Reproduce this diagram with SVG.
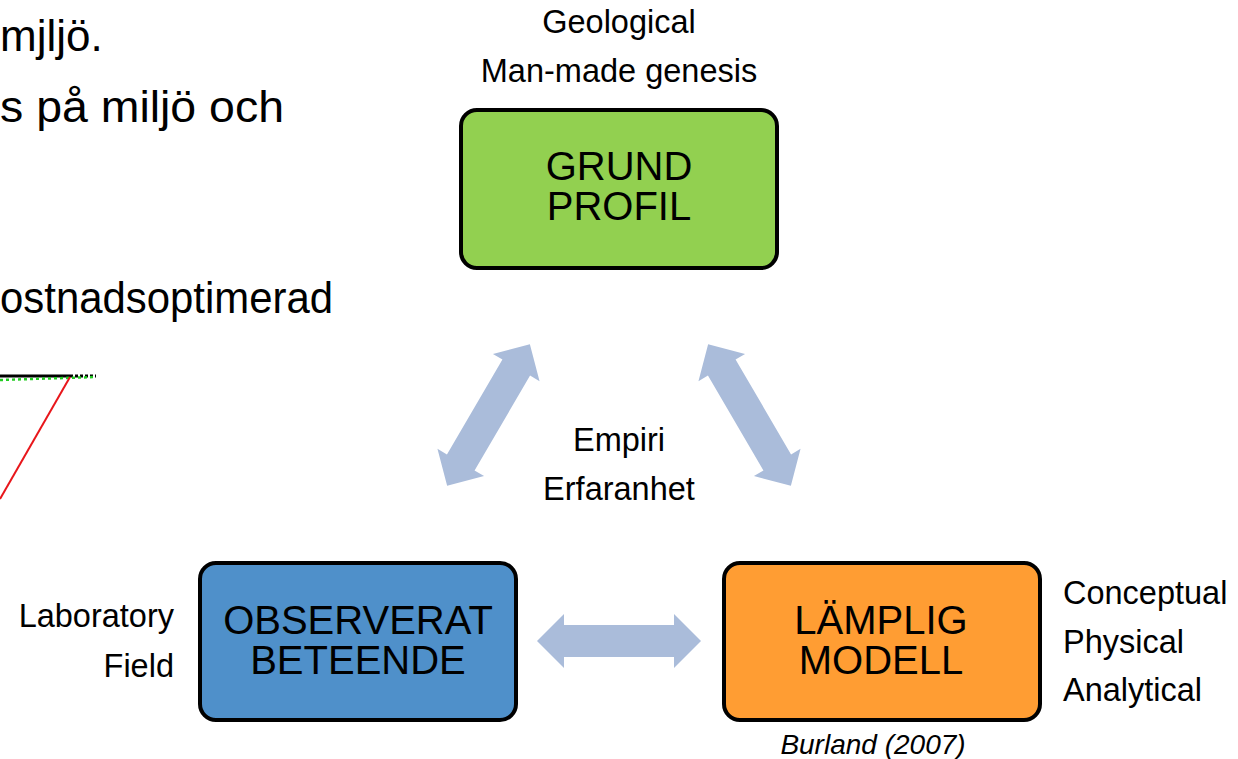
<svg xmlns="http://www.w3.org/2000/svg" width="1238" height="759" viewBox="0 0 1238 759">
<defs>
<style>
text{font-family:"Liberation Sans",Arial,sans-serif;fill:#000}
.body{font-size:44px}
.lbl{font-size:32.5px}
.box{font-size:40px;text-anchor:middle}
.node rect{stroke:#000;stroke-width:4}
.arr{fill:#AABCDA}
</style>
<polygon id="dbl" points="-82,0 -55,-27 -55,-16 55,-16 55,-27 82,0 55,27 55,16 -55,16 -55,27"/>
</defs>
<rect width="1238" height="759" fill="#fff"/>
<g id="background-text">
<text class="body" x="0" y="51">mjljö.</text>
<text class="body" x="0" y="122" textLength="284" lengthAdjust="spacingAndGlyphs">s på miljö och</text>
<text class="body" x="0" y="313" textLength="333" lengthAdjust="spacingAndGlyphs">ostnadsoptimerad</text>
</g>
<g id="chart-fragment">
<line x1="0" y1="376" x2="70" y2="376" stroke="#000" stroke-width="3"/>
<line x1="70" y1="376" x2="96" y2="376" stroke="#000" stroke-width="3" stroke-dasharray="3,2"/>
<line x1="0" y1="380" x2="96" y2="377" stroke="#22CC22" stroke-width="2.5" stroke-dasharray="3,3"/>
<line x1="70" y1="377" x2="0" y2="499" stroke="#E8161B" stroke-width="2"/>
</g>
<g id="connectors" class="arr">
<use href="#dbl" transform="translate(488.5,415) rotate(-59.7)"/>
<use href="#dbl" transform="translate(749.5,415) rotate(59.7)"/>
<use href="#dbl" transform="translate(619,641)"/>
</g>
<g id="center-label">
<text class="lbl" x="619" y="451" text-anchor="middle">Empiri</text>
<text class="lbl" x="619" y="500" text-anchor="middle">Erfaranhet</text>
</g>
<g id="node-grund" class="node">
<rect x="461" y="110" width="316" height="158" rx="16" fill="#92D050"/>
<text class="box" x="619" y="180">GRUND<tspan x="619" dy="40">PROFIL</tspan></text>
<text class="lbl" x="619" y="33" text-anchor="middle">Geological</text>
<text class="lbl" x="619" y="82" text-anchor="middle">Man-made genesis</text>
</g>
<g id="node-observerat" class="node">
<rect x="200" y="563" width="316" height="157" rx="16" fill="#4F90CA"/>
<text class="box" x="358" y="634">OBSERVERAT<tspan x="358" dy="40">BETEENDE</tspan></text>
<text class="lbl" x="174" y="627" text-anchor="end">Laboratory</text>
<text class="lbl" x="174" y="677" text-anchor="end">Field</text>
</g>
<g id="node-lamplig" class="node">
<rect x="724" y="563" width="316" height="157" rx="16" fill="#FF9D33"/>
<text class="box" x="881" y="634">LÄMPLIG<tspan x="881" dy="40">MODELL</tspan></text>
<text class="lbl" x="1063" y="604">Conceptual</text>
<text class="lbl" x="1063" y="653">Physical</text>
<text class="lbl" x="1063" y="701">Analytical</text>
<text x="873" y="754" text-anchor="middle" font-size="28" font-style="italic">Burland (2007)</text>
</g>
</svg>
